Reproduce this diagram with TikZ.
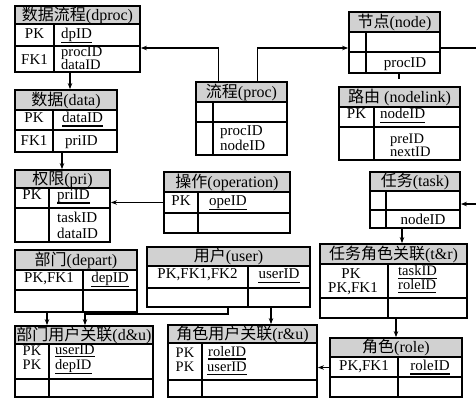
\documentclass[tikz,border=0pt]{standalone}
\usepackage{fontspec}
\setmainfont{Liberation Serif}
\newfontfamily\cjk{Noto Sans CJK SC}
\usetikzlibrary{arrows.meta,fit}
\definecolor{hdr}{gray}{0.82}
\tikzset{
  tblframe/.style={draw, line width=1.8pt, inner sep=0pt},
  inner/.style={line width=1.4pt},
  ttl/.style={inner sep=0pt, font=\fontsize{16}{16}\selectfont},
  t/.style={inner sep=0pt, font=\fontsize{15}{15}\selectfont},
  tt/.style={inner sep=0pt, font=\fontsize{14.5}{14.5}\selectfont},
  ulline/.style={line width=1.3pt},
  arr/.style={line width=1.1pt, -{Stealth[length=6pt,width=4.5pt]}},
  ln/.style={line width=1.1pt},
}
% name, left, top, right, bottom, header bottom, row1 bottom, column divider, title
\newcommand\erbox[9]{%
  \fill[hdr] (#2,#3) rectangle (#4,#6);
  \draw[inner] (#2,#6) -- (#4,#6);
  \draw[inner] (#2,#7) -- (#4,#7);
  \draw[inner] (#8,#6) -- (#8,#5);
  \node[tblframe, fit={(#2,#3) (#4,#5)}] (#1) {};
  \node[ttl] (#1-t) at ({(#2+#4)/2},{(#3+#6)/2}) {#9};
}
% underlined text: name, node options, position, text, drop below baseline
\newcommand\uln[5]{%
  \node[#2] (#1) at (#3) {#4};
  \draw[ulline] ([yshift=-#5pt]#1.base west) -- ([yshift=-#5pt]#1.base east);
}
\begin{document}
\begin{tikzpicture}[x=1pt,y=-1pt]
\useasboundingbox (0,0) rectangle (476,399);

\erbox{dproc}{15}{6}{140}{72}{24}{46}{54}{{\cjk 数据流程}(dproc)}
\erbox{node}{349}{12}{440}{73}{32}{52}{366}{{\cjk 节点}(node)}
\erbox{nodelink}{339}{87}{460}{160}{107}{127}{374}{{\cjk 路由} (nodelink)}
\erbox{data}{15}{90}{117}{152}{110}{130}{53}{{\cjk 数据}(data)}
\erbox{pri}{15}{170}{110}{242}{188}{208}{49}{{\cjk 权限}(pri)}
\erbox{proc}{196}{82}{287}{155}{102}{122}{213}{{\cjk 流程}(proc)}
\erbox{operation}{164}{172}{290}{233}{192}{213}{198}{{\cjk 操作}(operation)}
\erbox{task}{370}{172}{460}{228}{191}{210}{386}{{\cjk 任务}(task)}
\erbox{depart}{15}{250}{137}{312}{270}{290}{83}{{\cjk 部门}(depart)}
\erbox{user}{147}{247}{310}{307}{266}{288}{248}{{\cjk 用户}(user)}
\erbox{tr}{320}{244}{467}{318}{264}{298}{388}{{\cjk 任务角色关联}(t\&r)}
\erbox{role}{330}{338}{462}{397}{357}{377}{398}{{\cjk 角色}(role)}
\erbox{du}{15}{326}{153}{397}{344}{379}{49}{{\cjk 部门用户关联}(d\&u)}
\erbox{ru}{168}{325}{317}{397}{343}{380}{202}{{\cjk 角色用户关联}(r\&u)}

% cell texts
\node[t, anchor=base] (dproc-pk) at (34.5,38) {PK};
\uln{dproc-id}{t, anchor=base west}{61,38}{dpID}{4.3}
\node[t, anchor=base] (dproc-fk) at (34.5,64) {FK1};
\node[tt, anchor=base west] (dproc-f1) at (61,56) {procID};
\node[tt, anchor=base west] (dproc-f2) at (61,69) {dataID};

\node[t, anchor=base] (node-f) at (405,67) {procID};

\node[t, anchor=base] (nodelink-pk) at (356.5,118.5) {PK};
\uln{nodelink-id}{t, anchor=base west}{380,118.5}{nodeID}{4}
\node[tt, anchor=base west] (nodelink-f1) at (390,143) {preID};
\node[tt, anchor=base west] (nodelink-f2) at (390,156) {nextID};

\node[t, anchor=base] (data-pk) at (34,122) {PK};
\uln{data-id}{t, anchor=base west}{62,122}{dataID}{4}
\node[t, anchor=base] (data-fk) at (34,145) {FK1};
\node[t, anchor=base west] (data-f1) at (65,145) {priID};

\node[t, anchor=base] (pri-pk) at (32,199) {PK};
\uln{pri-id}{t, anchor=base west}{57,199}{priID}{4}
\node[t, anchor=base west] (pri-f1) at (57,222) {taskID};
\node[t, anchor=base west] (pri-f2) at (57,238) {dataID};

\node[t, anchor=base west] (proc-f1) at (220,135) {procID};
\node[t, anchor=base west] (proc-f2) at (220,150) {nodeID};

\node[t, anchor=base] (operation-pk) at (181,205) {PK};
\uln{operation-id}{t, anchor=base west}{209,205}{opeID}{4.3}

\node[t, anchor=base] (task-f) at (423,224) {nodeID};

\node[t, anchor=base] (depart-pk) at (49,282.5) {PK,FK1};
\uln{depart-id}{t, anchor=base}{110,282.5}{depID}{4.3}

\node[t, anchor=base] (user-pk) at (197.5,278.5) {PK,FK1,FK2};
\uln{user-id}{t, anchor=base}{279,278.5}{userID}{4}

\node[t, anchor=base] (tr-pk1) at (351,278) {PK};
\node[t, anchor=base] (tr-pk2) at (353,292) {PK,FK1};
\uln{tr-id1}{tt, anchor=base west}{398,275}{taskID}{3.5}
\uln{tr-id2}{tt, anchor=base west}{398,289}{roleID}{3.5}

\node[t, anchor=base] (role-pk) at (364,370) {PK,FK1};
\uln{role-id}{t, anchor=base}{430,370}{roleID}{4}

\node[tt, anchor=base] (du-pk1) at (32,355) {PK};
\node[tt, anchor=base] (du-pk2) at (32,369) {PK};
\uln{du-id1}{tt, anchor=base west}{55,354}{userID}{2.5}
\uln{du-id2}{tt, anchor=base west}{55,369}{depID}{4.5}

\node[tt, anchor=base] (ru-pk1) at (185,357) {PK};
\node[tt, anchor=base] (ru-pk2) at (185,371) {PK};
\uln{ru-id1}{tt, anchor=base west}{208,356}{roleID}{3}
\uln{ru-id2}{tt, anchor=base west}{207,371}{userID}{3.5}

% connectors
\coordinate (p1) at ([xshift=23pt]proc.north west);
\coordinate (p2) at ([xshift=62pt]proc.north west);
\coordinate (y48) at (0,48);
\draw[arr] (p1) |- (y48 -| dproc.east);
\draw[arr] (p2) |- (y48 -| node.west);
\coordinate (eR1) at (476,48);
\draw[ln] (eR1 -| node.east) -- (eR1);
\coordinate (tk) at (399,79);
\draw[ln] (tk |- node.south) -- (tk);

\coordinate (c5) at (70,0);
\draw[arr] (c5 |- dproc.south) -- (c5 |- data.north);
\coordinate (c6) at (62,0);
\draw[arr] (c6 |- data.south) -- (c6 |- pri.north);
\draw[arr] (operation.west) -- (operation.west -| pri.east);
\coordinate (eR2) at (476,204);
\draw[arr] (eR2) -- (eR2 -| task.east);
\coordinate (c9) at (402,0);
\draw[arr] (c9 |- task.south) -- (c9 |- tr.north);
\coordinate (c10) at (396,0);
\draw[arr] (c10 |- tr.south) -- (c10 |- role.north);
\draw[arr] (role.west) -- (role.west -| ru.east);
\coordinate (c12) at (271,0);
\draw[arr] (c12 |- user.south) -- (c12 |- ru.north);
\coordinate (c13) at (228,0);
\coordinate (c13b) at (85,314);
\draw[arr] (c13 |- user.south) |- (c13b) -- (c13b |- du.north);
\coordinate (c14) at (47,0);
\draw[arr] (c14 |- depart.south) -- (c14 |- du.north);
\end{tikzpicture}
\end{document}
